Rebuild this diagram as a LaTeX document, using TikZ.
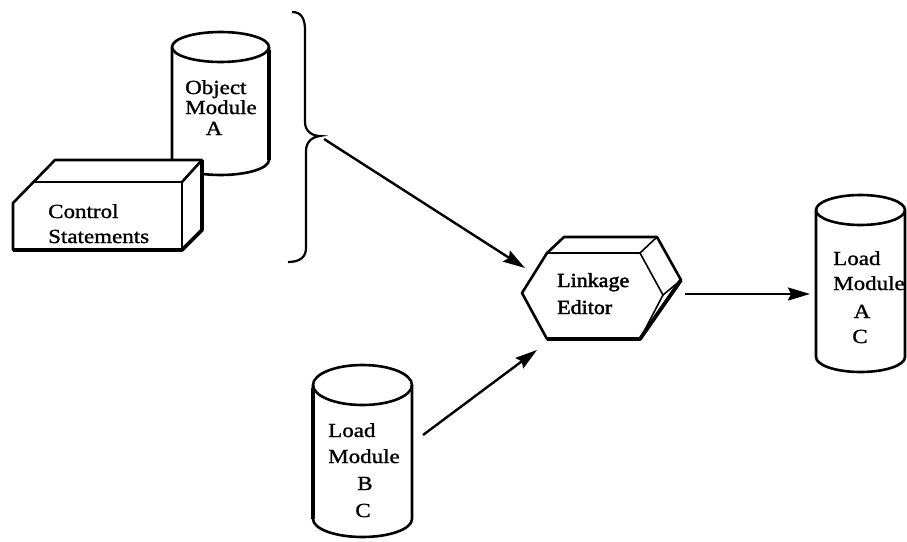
\documentclass[tikz,border=0pt]{standalone}
\usepackage{fontspec}
\setmainfont[FakeStretch=1.15,FakeBold=1.2]{Liberation Serif}
\newfontfamily\editfont[FakeStretch=1.1,FakeBold=2.2]{Liberation Serif}
\usetikzlibrary{arrows.meta}
\begin{document}
\begin{tikzpicture}[x=1pt,y=-1pt,
  shape line/.style={line width=2.6pt,line join=round},
  thin line/.style={line width=1.6pt},
  lbl/.style={inner sep=0pt,font=\fontsize{20}{20}\selectfont},
  edlbl/.style={inner sep=0pt,font=\editfont\fontsize{20}{20}\selectfont},
  flow/.style={line width=2.4pt,-{Stealth[length=22pt,width=13pt,inset=3pt]}}]
\useasboundingbox (0,0) rectangle (907,541);
% Object Module A cylinder
\filldraw[shape line,fill=white] (172,47) -- (172,160)
  arc[start angle=180,end angle=360,x radius=48.5pt,y radius=15pt]
  -- (269,47) arc[start angle=0,end angle=180,x radius=48.5pt,y radius=15pt] -- cycle;
\draw[shape line] (172,47) arc[start angle=180,end angle=360,x radius=48.5pt,y radius=15pt];
\draw[line width=3.4pt] (269,50) -- (269,160);
\node[lbl,anchor=base west] (oa1) at (185,94) {Object};
\node[lbl,anchor=base west] (oa2) at (185,114) {Module};
\node[lbl,anchor=base] (oa3) at (214,135) {A};
% Control Statements box
\filldraw[shape line,fill=white] (13,203) -- (55,160) -- (202,160) -- (202,230) -- (182,250) -- (13,250) -- cycle;
\draw[shape line] (33,182) -- (182,182) -- (182,250);
\draw[shape line] (182,182) -- (202,160);
\draw[line width=3.6pt,line join=round] (13,250) -- (182,250) -- (202,230) -- (202,160);
\node[lbl,anchor=base west] (cs1) at (48,218) {Control};
\node[lbl,anchor=base west] (cs2) at (48,243) {Statements};
% brace
\draw[line width=2.2pt] (292,12) .. controls (301,12) and (305,18) .. (305,30) -- (305,122)
  .. controls (305,131) and (312,136) .. (320,136)
  .. controls (312,137) and (306,142) .. (306,151) -- (306,248)
  .. controls (306,257) and (300,262) .. (288,262);
\coordinate (bracetip) at (324,139);
% Linkage Editor
\filldraw[shape line,fill=white] (522,293) -- (547,253) -- (564,237) -- (657,237) -- (681,280) -- (640,339) -- (547,339) -- cycle;
\draw[thin line] (547,253) -- (640,253) -- (663,295) -- (640,339);
\draw[thin line] (640,253) -- (657,237);
\draw[thin line] (663,295) -- (681,280);
\draw[thin line] (678,286) -- (646,330);
\draw[line width=3.8pt,line join=round] (547,339) -- (640,339) -- (681,280);
\node[edlbl,anchor=base west] (le1) at (557,287) {Linkage};
\node[edlbl,anchor=base west] (le2) at (557,314) {Editor};
\coordinate (leleft) at (525,268);
\coordinate (lelow) at (537,350);
\coordinate (leright) at (685,294);
% Load Module B C cylinder
\filldraw[shape line,fill=white] (313,385) -- (313,519)
  arc[start angle=180,end angle=360,x radius=49.5pt,y radius=18pt]
  -- (412,385) arc[start angle=0,end angle=180,x radius=49.5pt,y radius=20pt] -- cycle;
\draw[shape line] (313,385) arc[start angle=180,end angle=360,x radius=49.5pt,y radius=20pt];
\draw[line width=3.4pt] (313,388) -- (313,519);
\node[lbl,anchor=base west] (lb1) at (328,437) {Load};
\node[lbl,anchor=base west] (lb2) at (328,463) {Module};
\node[lbl,anchor=base] (lb3) at (365,490) {B};
\node[lbl,anchor=base] (lb4) at (363,517) {C};
\coordinate (lbout) at (423,435);
% Load Module A C cylinder
\filldraw[shape line,fill=white] (816,210) -- (816,357)
  arc[start angle=180,end angle=360,x radius=44.5pt,y radius=15pt]
  -- (905,210) arc[start angle=0,end angle=180,x radius=44.5pt,y radius=15pt] -- cycle;
\draw[shape line] (816,210) arc[start angle=180,end angle=360,x radius=44.5pt,y radius=15pt];
\node[lbl,anchor=base west] (la1) at (833,265) {Load};
\node[lbl,anchor=base west] (la2) at (833,290) {Module};
\node[lbl,anchor=base] (la3) at (862,318) {A};
\node[lbl,anchor=base] (la4) at (860,343) {C};
\coordinate (lain) at (810,294);
% connectors
\draw[flow] (bracetip) -- (leleft);
\draw[flow] (lbout) -- (lelow);
\draw[flow] (leright) -- (lain);
\end{tikzpicture}
\end{document}
